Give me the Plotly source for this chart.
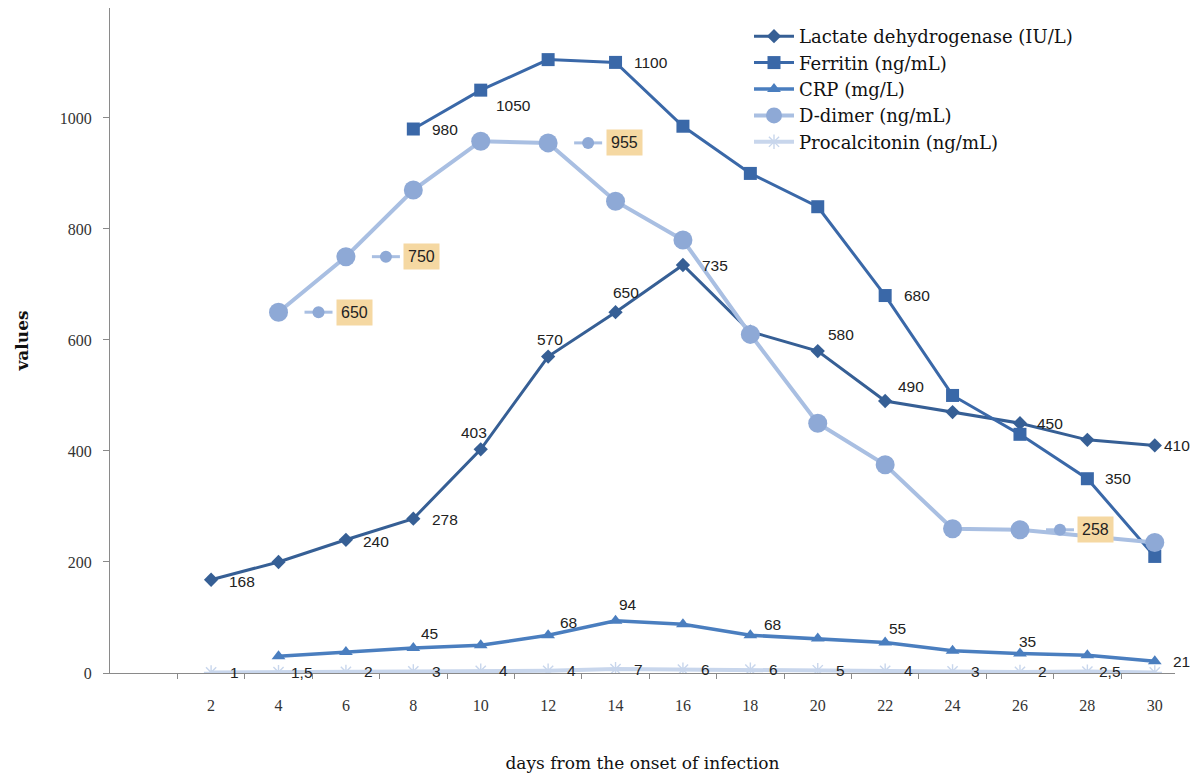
import plotly.graph_objects as go

days = [2, 4, 6, 8, 10, 12, 14, 16, 18, 20, 22, 24, 26, 28, 30]

ldh = [168, 200, 240, 278, 403, 570, 650, 735, 615, 580, 490, 470, 450, 420, 410]
ferritin = [None, None, None, 980, 1050, 1105, 1100, 985, 900, 840, 680, 500, 430, 350, 210]
crp = [None, 30, 38, 45, 50, 68, 94, 88, 68, 62, 55, 40, 35, 32, 21]
ddimer = [None, 650, 750, 870, 958, 955, 850, 780, 610, 450, 375, 260, 258, None, 235]
procalcitonin = [1, 1.5, 2, 3, 4, 4, 7, 6, 6, 5, 4, 3, 2, 2.5, 1]

names = ["Lactate dehydrogenase (IU/L)", "Ferritin (ng/mL)", "CRP (mg/L)",
         "D-dimer (ng/mL)", "Procalcitonin (ng/mL)"]

# data labels: (day, value, text)
ldh_labels = [(2, 168, "168"), (6, 240, "240"), (8, 278, "278"), (10, 403, "403"),
              (12, 570, "570"), (14, 650, "650"), (16, 735, "735"), (20, 580, "580"),
              (22, 490, "490"), (26, 450, "450"), (30, 410, "410")]
ldh_off = [(31, -2), (30, -2), (32, -1), (-7, 17), (2, 17), (10, 20), (32, 0), (23, 17),
           (26, 15), (30, 0), (22, 0)]
fer_labels = [(8, 980, "980"), (10, 1050, "1050"), (14, 1100, "1100"), (22, 680, "680"),
              (28, 350, "350")]
fer_off = [(32, 0), (33, -15), (35, 0), (32, 0), (31, 0)]
crp_labels = [(8, 45, "45"), (12, 68, "68"), (14, 94, "94"), (18, 68, "68"), (22, 55, "55"),
              (26, 35, "35"), (30, 21, "21")]
crp_off = [(16, 15), (20, 13), (12, 16), (22, 11), (12, 14), (8, 12), (27, 0)]
pct_labels = [(2, 1, "1"), (4, 1.5, "1,5"), (6, 2, "2"), (8, 3, "3"), (10, 4, "4"), (12, 4, "4"),
              (14, 7, "7"), (16, 6, "6"), (18, 6, "6"), (20, 5, "5"), (22, 4, "4"), (24, 3, "3"),
              (26, 2, "2"), (28, 2.5, "2,5")]
dd_labels = [(4, 650, "650"), (6, 750, "750"), (12, 955, "955"), (26, 258, "258")]

c_ldh = "#365f95"
c_fer = "#3a68a8"
c_crp = "#4a7ebf"
c_dd_line = "#a9bfe2"
c_dd_mark = "#8ea9d6"
c_pct_line = "#c8d6ec"
c_pct_mark = "#a9bde2"

fig = go.Figure()
fig.add_trace(go.Scatter(x=days, y=ldh, name=names[0], mode="lines+markers",
                         line=dict(color=c_ldh, width=3),
                         marker=dict(symbol="diamond", size=11, color=c_ldh)))
fig.add_trace(go.Scatter(x=days, y=ferritin, name=names[1], mode="lines+markers",
                         line=dict(color=c_fer, width=3),
                         marker=dict(symbol="square", size=13, color=c_fer)))
fig.add_trace(go.Scatter(x=days, y=crp, name=names[2], mode="lines+markers",
                         line=dict(color=c_crp, width=3.5),
                         marker=dict(symbol="triangle-up", size=12, color=c_crp)))
fig.add_trace(go.Scatter(x=days, y=ddimer, name=names[3], mode="lines+markers",
                         connectgaps=True,
                         line=dict(color=c_dd_line, width=4),
                         marker=dict(symbol="circle", size=19, color=c_dd_mark)))
fig.add_trace(go.Scatter(x=days, y=procalcitonin, name=names[4], mode="lines+markers",
                         line=dict(color=c_pct_line, width=4),
                         marker=dict(symbol="asterisk-open", size=12,
                                     line=dict(color=c_pct_mark, width=1.4))))

lab_font = dict(family="Liberation Sans", size=15.5, color="#222222")
annotations = []


def add_labels(labels, offsets):
    for (d, v, t), (dx, dy) in zip(labels, offsets):
        annotations.append(dict(x=d, y=v, xref="x", yref="y", text=t, showarrow=False,
                                xshift=dx, yshift=dy, font=lab_font))


add_labels(ldh_labels, ldh_off)
add_labels(fer_labels, fer_off)
add_labels(crp_labels, crp_off)
add_labels(pct_labels, [(23, 0)] * len(pct_labels))

shapes = []
for d, v, t in dd_labels:
    annotations.append(dict(x=d, y=v, xref="x", yref="y", text=t, showarrow=False,
                            xshift=76, yshift=0, font=dict(family="Liberation Sans", size=16,
                                                           color="#222222"),
                            bgcolor="#f5d8a2", borderpad=4))
    shapes.append(dict(type="line", xref="x", yref="y", xsizemode="pixel", ysizemode="pixel",
                       xanchor=d, yanchor=v, x0=26, x1=54, y0=0, y1=0,
                       line=dict(color=c_dd_line, width=3)))
    shapes.append(dict(type="circle", xref="x", yref="y", xsizemode="pixel", ysizemode="pixel",
                       xanchor=d, yanchor=v, x0=34, x1=46, y0=-6, y1=6,
                       fillcolor=c_dd_mark, line=dict(width=0)))

fig.update_layout(
    width=1190, height=765,
    margin=dict(l=102, r=23, t=0, b=100),
    paper_bgcolor="white", plot_bgcolor="white",
    font=dict(family="Liberation Serif", size=14, color="#222222"),
    annotations=annotations,
    shapes=shapes,
    showlegend=True,
    legend=dict(x=0.6, y=0.985, xanchor="left", yanchor="top",
                font=dict(family="DejaVu Serif", size=18, color="#111111"),
                bgcolor="rgba(0,0,0,0)", tracegroupgap=0, itemwidth=40),
    xaxis=dict(range=[-1, 30.6], tickmode="array", tickvals=days,
               ticktext=[str(d) for d in days], ticks="", showgrid=False, zeroline=False,
               showline=True, linecolor="#8a8a8a", linewidth=1.2,
               ticklabelstandoff=18,
               tickfont=dict(family="Liberation Serif", size=16, color="#333333"),
               minor=dict(tickmode="array", tickvals=list(range(1, 30, 2)), ticks="outside",
                          ticklen=5, tickcolor="#8a8a8a", showgrid=False),
               title=dict(text="days from the onset of infection", standoff=43,
                          font=dict(family="DejaVu Serif", size=17, color="#111111")),
               automargin=False),
    yaxis=dict(range=[0, 1198], tickmode="array", tickvals=[0, 200, 400, 600, 800, 1000],
               ticks="outside", ticklen=6, tickcolor="#8a8a8a", showgrid=False,
               zeroline=False, showline=True, linecolor="#8a8a8a", linewidth=1.2,
               ticklabelstandoff=8,
               tickfont=dict(family="Liberation Serif", size=16, color="#333333"),
               title=dict(text="<b>values</b>", standoff=26,
                          font=dict(family="DejaVu Serif", size=17, color="#111111")),
               automargin=False),
)

fig.write_html("out.html")
